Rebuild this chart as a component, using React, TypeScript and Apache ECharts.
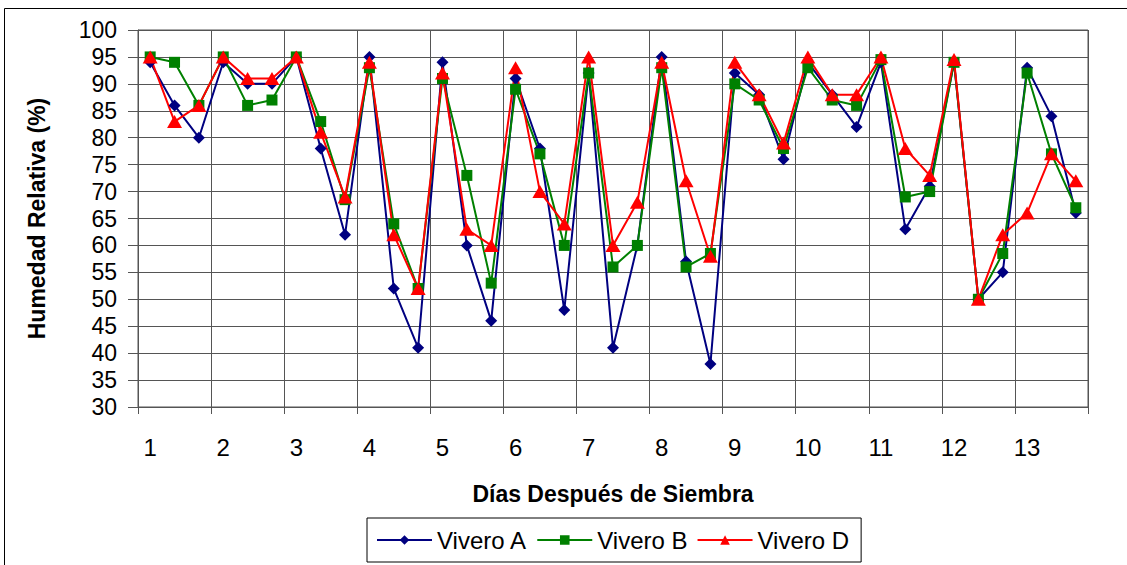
import React, { useEffect, useRef } from "react";
import * as echarts from "echarts";

const days = [1, 2, 3, 4, 5, 6, 7, 8, 9, 10, 11, 12, 13];
const readingsPerDay = ["a", "b", "c"];
const categories = days.flatMap((d) => readingsPerDay.map((r) => `${d}${r}`));

const viveroA = [94, 86, 80, 94, 90, 90, 95, 78, 62, 95, 52, 41, 94, 60, 46, 91, 78, 48, 92, 41, 60, 95, 57, 38, 92, 88, 76, 94, 88, 82, 94, 63, 71, 94, 50, 55, 93, 84, 66];
const viveroB = [95, 94, 86, 95, 86, 87, 95, 83, 68.5, 93, 64, 52, 91, 73, 53, 89, 77, 60, 92, 56, 60, 93, 56, 58.5, 90, 87, 78, 93, 87, 86, 94.5, 69, 70, 94, 50, 58.5, 92, 77, 67];
const viveroD = [95, 83, 86, 95, 91, 91, 95, 81, 69, 94, 62, 52, 92, 63, 60, 93, 70, 64, 95, 60, 68, 94, 72, 58, 94, 88, 79, 95, 88, 88, 95, 78, 73, 94.5, 50, 62, 66, 77, 72];

const FONT = "'Liberation Sans', Arial, sans-serif";

export default function App() {
  const ref = useRef<HTMLDivElement>(null);
  useEffect(() => {
    if (!ref.current) return;
    const chart = echarts.init(ref.current, undefined, { renderer: "svg" });
    const mk = (name: string, data: number[], color: string, symbol: string, size: any) => ({
      name,
      type: "line",
      data,
      symbol,
      symbolSize: size,
      showAllSymbol: true,
      lineStyle: { color, width: 2 },
      itemStyle: { color, borderWidth: 0 },
      emphasis: { disabled: true },
    });
    chart.setOption({
      animation: false,
      backgroundColor: "#ffffff",
      textStyle: { fontFamily: FONT },
      graphic: [
        {
          type: "rect",
          shape: { x: 4.5, y: 8.5, width: 1140, height: 600 },
          style: { fill: "none", stroke: "#000", lineWidth: 1 },
          silent: true,
          z: -10,
        },
      ],
      grid: {
        left: 138,
        right: 39,
        top: 30,
        bottom: 158,
        show: true,
        borderColor: "#555",
        borderWidth: 1,
        backgroundColor: "transparent",
      },
      legend: {
        left: 367,
        top: 518,
        padding: [10, 12, 10, 9],
        borderColor: "#000",
        borderWidth: 1,
        itemWidth: 55,
        itemHeight: 12,
        itemGap: 9,
        textStyle: { fontSize: 24, color: "#000", fontFamily: FONT },
        data: ["Vivero A", "Vivero B", "Vivero D"],
      },
      xAxis: {
        type: "category",
        data: categories,
        boundaryGap: true,
        name: "Días Después de Siembra",
        nameLocation: "middle",
        nameGap: 75,
        nameTextStyle: { fontSize: 23, fontWeight: "bold", color: "#000", fontFamily: FONT, verticalAlign: "top" },
        axisLine: { show: true, lineStyle: { color: "#555", width: 1 } },
        axisTick: { show: true, interval: 2, length: 7, lineStyle: { color: "#555" } },
        axisLabel: {
          interval: 2,
          fontSize: 24,
          color: "#000",
          margin: 28,
          formatter: (v: string) => v.replace(/[abc]$/, ""),
        },
        splitLine: { show: true, interval: 2, lineStyle: { color: "#555", width: 1 } },
      },
      yAxis: {
        type: "value",
        min: 30,
        max: 100,
        interval: 5,
        name: "Humedad Relativa (%)",
        nameLocation: "middle",
        nameGap: 90,
        nameRotate: 90,
        nameTextStyle: { fontSize: 23, fontWeight: "bold", color: "#000", fontFamily: FONT },
        axisLine: { show: true, lineStyle: { color: "#555", width: 1 } },
        axisTick: { show: true, length: 10, lineStyle: { color: "#555" } },
        axisLabel: { fontSize: 23, color: "#000", margin: 21 },
        splitLine: { show: true, lineStyle: { color: "#555", width: 1 } },
      },
      series: [
        mk("Vivero A", viveroA, "#000080", "diamond", 12),
        mk("Vivero B", viveroB, "#008000", "rect", 11),
        mk("Vivero D", viveroD, "#ff0000", "triangle", [15, 13]),
      ],
    });
    return () => chart.dispose();
  }, []);
  return (
    <div
      ref={ref}
      style={{ position: "fixed", left: 0, top: 0, width: 1127, height: 565, background: "#fff" }}
    />
  );
}
